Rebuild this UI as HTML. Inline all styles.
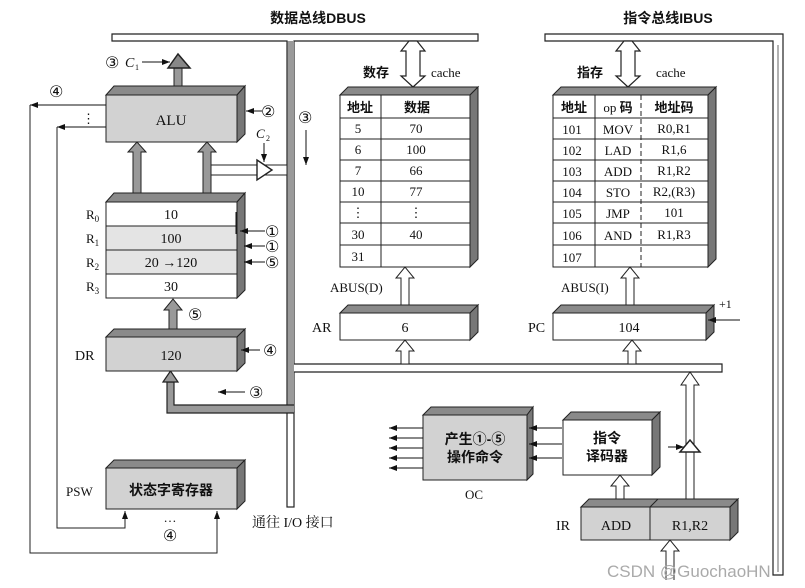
<!DOCTYPE html>
<html><head><meta charset="utf-8"><style>
html,body{margin:0;padding:0;background:#fff;}
svg{display:block;}
text{font-family:"Liberation Serif","Noto Serif CJK SC","Noto Sans CJK SC",serif;fill:#111;}
text.b,tspan.b{font-family:"Liberation Sans","Noto Sans CJK SC",sans-serif;font-weight:bold;}
text.c{font-family:"DejaVu Sans","Noto Sans CJK SC",sans-serif;font-size:16px;}
text.wm{font-family:"Liberation Sans","DejaVu Sans",sans-serif;fill:#aaa;}
</style></head><body>
<svg width="805" height="588" viewBox="0 0 805 588" xmlns="http://www.w3.org/2000/svg">
<defs>
<marker id="ah" markerWidth="8" markerHeight="6" refX="8" refY="3" orient="auto" markerUnits="userSpaceOnUse"><path d="M0,0 L8,3 L0,6 z" fill="#111"/></marker>
</defs>
<text x="318" y="23" font-size="14" text-anchor="middle" class="b">数据总线DBUS</text>
<text x="668" y="23" font-size="14" text-anchor="middle" class="b">指令总线IBUS</text>

<path d="M112,34 H478 V41 H294 V412 H287 V41 H112 Z" fill="#fff" stroke="#222" stroke-width="1.2"/>
<rect x="287.5" y="41" width="6.5" height="372" fill="#9a9a9a"/>
<rect x="287" y="412" width="7" height="95" fill="#fff" stroke="#222" stroke-width="1.2"/>
<path d="M294,364 H722 V372 H294" fill="#fff" stroke="#222" stroke-width="1.2"/>

<path d="M294,405 H174 V382 H167 V413 H294" fill="#999" stroke="#222" stroke-width="1.2"/>
<path d="M163,382 L170.5,371 L178,382 Z" fill="#999" stroke="#222" stroke-width="1.2"/>

<path d="M545,34 H783 V575 H773 V41 H545 Z" fill="#fff" stroke="#222" stroke-width="1.2"/>
<line x1="778" y1="45" x2="778" y2="572" stroke="#666" stroke-width="1"/>

<rect x="174" y="60" width="8" height="26" fill="#999" stroke="#222"/>
<path d="M168,68 L178,54 L190,68 Z" fill="#888" stroke="#222" stroke-width="1.5"/>
<text x="105" y="68" class="c">③</text>
<text x="125" y="67" font-size="14" font-style="italic">C</text><text x="135" y="70" font-size="8">1</text>
<line x1="142" y1="62" x2="170" y2="62" stroke="#111" marker-end="url(#ah)"/>

<path d="M106,95 L114,86 H245 L237,95 Z" fill="#8a8a8a" stroke="#222"/>
<path d="M237,95 L245,86 V134 L237,142 Z" fill="#777" stroke="#222"/>
<rect x="106" y="95" width="131" height="47" fill="#d2d2d2" stroke="#222"/>
<text x="171" y="125" font-size="15" text-anchor="middle">ALU</text>
<text x="261" y="117" class="c">②</text>
<line x1="262" y1="111" x2="246" y2="111" stroke="#111" marker-end="url(#ah)"/>
<text x="49" y="97" class="c">④</text>
<line x1="106" y1="105" x2="30" y2="105" stroke="#111" marker-end="url(#ah)"/>
<line x1="106" y1="127" x2="57" y2="127" stroke="#111" marker-end="url(#ah)"/>
<text x="82" y="123" font-size="13">⋮</text>
<polyline points="30,105 30,553 217,553 217,511" fill="none" stroke="#222" marker-end="url(#ah)"/>
<polyline points="57,127 57,528 125,528 125,511" fill="none" stroke="#222" marker-end="url(#ah)"/>

<text x="298" y="123" class="c">③</text>
<line x1="306" y1="130" x2="306" y2="165" stroke="#111" marker-end="url(#ah)"/>

<path d="M203,165 H287 V175 H203" fill="#fff" stroke="#222"/>
<path d="M257,160 L272,170 L257,180 Z" fill="#fff" stroke="#222" stroke-width="1.4"/>
<text x="256" y="138" font-size="13" font-style="italic">C</text><text x="266" y="141" font-size="8">2</text>
<line x1="264" y1="143" x2="264" y2="162" stroke="#111" marker-end="url(#ah)"/>

<path d="M133,193 V152 H128 L137,142 L146,152 H141 V193 Z" fill="#999" stroke="#222"/>
<path d="M203,193 V152 H198 L207,142 L216,152 H211 V193 Z" fill="#999" stroke="#222"/>

<path d="M106,202 L114,193 H245 L237,202 Z" fill="#8a8a8a" stroke="#222"/>
<path d="M237,202 L245,193 V290 L237,298 Z" fill="#777" stroke="#222"/>
<rect x="106" y="202" width="131" height="24" fill="#fff" stroke="#222"/>
<rect x="106" y="226" width="131" height="24" fill="#e4e4e4" stroke="#222"/>
<rect x="106" y="250" width="131" height="24" fill="#e4e4e4" stroke="#222"/>
<rect x="106" y="274" width="131" height="24" fill="#fff" stroke="#222"/>
<text x="171" y="219" font-size="14" text-anchor="middle">10</text>
<text x="171" y="243" font-size="14" text-anchor="middle">100</text>
<text x="171" y="267" font-size="14" text-anchor="middle">20 →120</text>
<text x="171" y="291" font-size="14" text-anchor="middle">30</text>
<text x="86" y="219" font-size="13">R<tspan font-size="9" dy="3">0</tspan></text>
<text x="86" y="243" font-size="13">R<tspan font-size="9" dy="3">1</tspan></text>
<text x="86" y="267" font-size="13">R<tspan font-size="9" dy="3">2</tspan></text>
<text x="86" y="291" font-size="13">R<tspan font-size="9" dy="3">3</tspan></text>
<line x1="236" y1="212" x2="236" y2="234" stroke="#111"/>
<line x1="265" y1="231" x2="240" y2="231" stroke="#111" marker-end="url(#ah)"/>
<line x1="265" y1="246" x2="244" y2="246" stroke="#111" marker-end="url(#ah)"/>
<line x1="265" y1="262" x2="244" y2="262" stroke="#111" marker-end="url(#ah)"/>
<text x="265" y="237" class="c">①</text>
<text x="265" y="252" class="c">①</text>
<text x="265" y="268" class="c">⑤</text>

<path d="M169,329 V310 H164 L173,299 L182,310 H177 V329 Z" fill="#999" stroke="#222"/>
<text x="188" y="320" class="c">⑤</text>

<path d="M106,337 L114,329 H245 L237,337 Z" fill="#8a8a8a" stroke="#222"/>
<path d="M237,337 L245,329 V363 L237,371 Z" fill="#777" stroke="#222"/>
<rect x="106" y="337" width="131" height="34" fill="#d2d2d2" stroke="#222"/>
<text x="171" y="360" font-size="14" text-anchor="middle">120</text>
<text x="75" y="360" font-size="14" font-family="Liberation Sans">DR</text>
<text x="263" y="356" class="c">④</text>
<line x1="260" y1="350" x2="241" y2="350" stroke="#111" marker-end="url(#ah)"/>
<text x="249" y="398" class="c">③</text>
<line x1="245" y1="392" x2="218" y2="392" stroke="#111" marker-end="url(#ah)"/>

<path d="M106,468 L114,460 H245 L237,468 Z" fill="#8a8a8a" stroke="#222"/>
<path d="M237,468 L245,460 V501 L237,509 Z" fill="#777" stroke="#222"/>
<rect x="106" y="468" width="131" height="41" fill="#d2d2d2" stroke="#222"/>
<text x="171" y="495" font-size="14" text-anchor="middle" class="b">状态字寄存器</text>
<text x="66" y="496" font-size="13" font-family="Liberation Sans">PSW</text>
<text x="170" y="522" font-size="13" text-anchor="middle">…</text>
<text x="170" y="541" class="c" text-anchor="middle">④</text>
<text x="252" y="527" font-size="14">通往 I/O 接口</text>

<path d="M409,41 L401,51 H406 V76 H401 L413,87 L425,76 H420 V51 H425 L417,41 Z" fill="#fff" stroke="#222" stroke-width="1.2"/>
<text x="376" y="77" font-size="13" text-anchor="middle" class="b">数存</text>
<text x="431" y="77" font-size="13">cache</text>
<path d="M340,95 L348,87 H478 L470,95 Z" fill="#8a8a8a" stroke="#222"/>
<path d="M470,95 L478,87 V259 L470,267 Z" fill="#777" stroke="#222"/>
<rect x="340" y="95" width="130" height="172" fill="#fff" stroke="#222"/>
<g stroke="#222">
<line x1="340" y1="118" x2="470" y2="118"/><line x1="340" y1="139" x2="470" y2="139"/>
<line x1="340" y1="160" x2="470" y2="160"/><line x1="340" y1="181" x2="470" y2="181"/>
<line x1="340" y1="202" x2="470" y2="202"/><line x1="340" y1="223" x2="470" y2="223"/>
<line x1="340" y1="245" x2="470" y2="245"/><line x1="381" y1="95" x2="381" y2="267"/>
</g>
<g font-size="13" text-anchor="middle">
<text x="360" y="112" class="b">地址</text><text x="417" y="112" class="b">数据</text>
<text x="358" y="133">5</text><text x="416" y="133">70</text>
<text x="358" y="154">6</text><text x="416" y="154">100</text>
<text x="358" y="175">7</text><text x="416" y="175">66</text>
<text x="358" y="196">10</text><text x="416" y="196">77</text>
<text x="358" y="217">⋮</text><text x="416" y="217">⋮</text>
<text x="358" y="239">30</text><text x="416" y="239">40</text>
<text x="358" y="261">31</text>
</g>
<text x="330" y="292" font-size="13">ABUS(D)</text>
<path d="M401,305 V278 H396 L405,267 L414,278 H409 V305 Z" fill="#fff" stroke="#222"/>
<path d="M340,313 L348,305 H478 L470,313 Z" fill="#8a8a8a" stroke="#222"/>
<path d="M470,313 L478,305 V332 L470,340 Z" fill="#777" stroke="#222"/>
<rect x="340" y="313" width="130" height="27" fill="#fff" stroke="#222"/>
<text x="405" y="332" font-size="14" text-anchor="middle">6</text>
<text x="312" y="332" font-size="14">AR</text>
<path d="M401,364 V351 H396 L405,340 L414,351 H409 V364 Z" fill="#fff" stroke="#222"/>

<path d="M624,41 L616,51 H621 V76 H616 L628,87 L640,76 H635 V51 H640 L632,41 Z" fill="#fff" stroke="#222" stroke-width="1.2"/>
<text x="590" y="77" font-size="13" text-anchor="middle" class="b">指存</text>
<text x="656" y="77" font-size="13">cache</text>
<path d="M553,95 L561,87 H716 L708,95 Z" fill="#8a8a8a" stroke="#222"/>
<path d="M708,95 L716,87 V259 L708,267 Z" fill="#777" stroke="#222"/>
<rect x="553" y="95" width="155" height="172" fill="#fff" stroke="#222"/>
<g stroke="#222">
<line x1="553" y1="118" x2="708" y2="118"/><line x1="553" y1="139" x2="708" y2="139"/>
<line x1="553" y1="160" x2="708" y2="160"/><line x1="553" y1="181" x2="708" y2="181"/>
<line x1="553" y1="202" x2="708" y2="202"/><line x1="553" y1="223" x2="708" y2="223"/>
<line x1="553" y1="245" x2="708" y2="245"/><line x1="595" y1="95" x2="595" y2="267"/>
<line x1="641" y1="95" x2="641" y2="267" stroke-dasharray="5,3"/>
</g>
<g font-size="13" text-anchor="middle">
<text x="574" y="112" class="b">地址</text><text x="618" y="112">op <tspan class="b">码</tspan></text><text x="674" y="112" class="b">地址码</text>
<text x="572" y="134">101</text><text x="618" y="134">MOV</text><text x="674" y="133">R0,R1</text>
<text x="572" y="155">102</text><text x="618" y="155">LAD</text><text x="674" y="154">R1,6</text>
<text x="572" y="176">103</text><text x="618" y="176">ADD</text><text x="674" y="175">R1,R2</text>
<text x="572" y="197">104</text><text x="618" y="197">STO</text><text x="674" y="196">R2,(R3)</text>
<text x="572" y="218">105</text><text x="618" y="218">JMP</text><text x="674" y="217">101</text>
<text x="572" y="240">106</text><text x="618" y="240">AND</text><text x="674" y="239">R1,R3</text>
<text x="572" y="262">107</text>
</g>
<text x="561" y="292" font-size="13">ABUS(I)</text>
<path d="M626,305 V278 H621 L630,267 L639,278 H634 V305 Z" fill="#fff" stroke="#222"/>
<path d="M553,313 L561,305 H714 L706,313 Z" fill="#8a8a8a" stroke="#222"/>
<path d="M706,313 L714,305 V332 L706,340 Z" fill="#777" stroke="#222"/>
<rect x="553" y="313" width="153" height="27" fill="#fff" stroke="#222"/>
<text x="629" y="332" font-size="14" text-anchor="middle">104</text>
<text x="528" y="332" font-size="14">PC</text>
<text x="719" y="308" font-size="12">+1</text>
<line x1="740" y1="320" x2="708" y2="320" stroke="#111" marker-end="url(#ah)"/>
<path d="M628,364 V351 H623 L632,340 L641,351 H636 V364 Z" fill="#fff" stroke="#222"/>

<path d="M423,415 L431,407 H533 L527,415 Z" fill="#8a8a8a" stroke="#222"/>
<path d="M527,415 L533,407 V474 L527,480 Z" fill="#777" stroke="#222"/>
<rect x="423" y="415" width="104" height="65" fill="#d2d2d2" stroke="#222"/>
<text x="475" y="444" font-size="14" text-anchor="middle" class="b">产生①-⑤</text>
<text x="475" y="462" font-size="14" text-anchor="middle" class="b">操作命令</text>
<text x="474" y="499" font-size="13" text-anchor="middle">OC</text>
<g stroke="#111">
<line x1="423" y1="428" x2="389" y2="428" marker-end="url(#ah)"/>
<line x1="423" y1="438" x2="389" y2="438" marker-end="url(#ah)"/>
<line x1="423" y1="448" x2="389" y2="448" marker-end="url(#ah)"/>
<line x1="423" y1="458" x2="389" y2="458" marker-end="url(#ah)"/>
<line x1="423" y1="468" x2="389" y2="468" marker-end="url(#ah)"/>
<line x1="562" y1="428" x2="529" y2="428" marker-end="url(#ah)"/>
<line x1="562" y1="444" x2="529" y2="444" marker-end="url(#ah)"/>
<line x1="562" y1="458" x2="529" y2="458" marker-end="url(#ah)"/>
</g>

<path d="M563,420 L571,412 H660 L652,420 Z" fill="#8a8a8a" stroke="#222"/>
<path d="M652,420 L660,412 V467 L652,475 Z" fill="#777" stroke="#222"/>
<rect x="563" y="420" width="89" height="55" fill="#fff" stroke="#222"/>
<text x="607" y="443" font-size="14" text-anchor="middle" class="b">指令</text>
<text x="607" y="461" font-size="14" text-anchor="middle" class="b">译码器</text>

<path d="M616,499 V486 H611 L620,475 L629,486 H624 V499 Z" fill="#fff" stroke="#222"/>
<path d="M686,499 V385 H681 L690,372 L699,385 H694 V499 Z" fill="#fff" stroke="#222"/>
<path d="M680,452 L690,440 L700,452 Z" fill="#fff" stroke="#222" stroke-width="1.5"/>
<line x1="668" y1="447" x2="684" y2="447" stroke="#111" marker-end="url(#ah)"/>

<path d="M581,507 L589,499 H738 L730,507 Z" fill="#8a8a8a" stroke="#222"/>
<path d="M730,507 L738,499 V532 L730,540 Z" fill="#777" stroke="#222"/>
<rect x="581" y="507" width="149" height="33" fill="#d2d2d2" stroke="#222"/>
<line x1="650" y1="507" x2="650" y2="540" stroke="#222"/>
<line x1="650" y1="507" x2="658" y2="499" stroke="#222"/>
<text x="616" y="530" font-size="14" text-anchor="middle">ADD</text>
<text x="690" y="530" font-size="14" text-anchor="middle">R1,R2</text>
<text x="556" y="530" font-size="14">IR</text>
<path d="M666,580 V551 H661 L670,540 L679,551 H674 V580" fill="#fff" stroke="#222"/>

<text x="607" y="577" font-size="17" class="wm">CSDN @GuochaoHN</text>
</svg>
</body></html>
